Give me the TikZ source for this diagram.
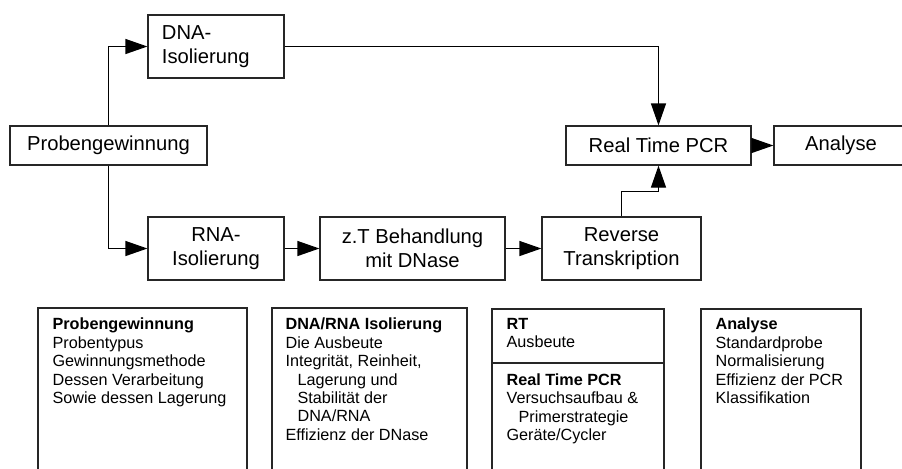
\documentclass[tikz,border=0pt]{standalone}
\usepackage{fontspec}
\setmainfont{Liberation Sans}
\usetikzlibrary{arrows.meta}

\begin{document}
\begin{tikzpicture}[x=0.5pt, y=-0.5pt, line width=0.6pt,
		box/.style={draw=black!85, fill=white, inner sep=0pt, minimum height=31.5pt, align=center, font=\fontsize{10.1}{11.75}\selectfont},
		pil/.style={-{Triangle[length=11pt, width=7.5pt]}},
		liste/.style={anchor=north west, inner sep=0pt, align=left, font=\fontsize{8.1}{9.2}\selectfont}]
		\useasboundingbox (0, 0) rectangle (902, 468);
		
		\node [box, minimum width=98.5pt, minimum height=19.5pt] (prob) at (108.5, 145.5) {Probengewinnung}; % Ablauf
		\node [box, minimum width=68pt, text width=54pt, inner xsep=7pt, align=left] (dna) at (216, 46.5) {DNA-\\Isolierung};
		\node [box, minimum width=68pt] (rna) at (216, 248.5) {RNA-\\Isolierung};
		\node [box, minimum width=92.5pt] (dnase) at (412.5, 248.5) {z.T Behandlung\\mit DNase};
		\node [box, minimum width=79.5pt] (rt) at (621.5, 248.5) {Reverse\\Transkription};
		\node [box, minimum width=92.5pt, minimum height=19.5pt] (pcr) at (658.5, 145.5) {Real Time PCR};
		\node [box, minimum width=67pt, minimum height=19.5pt] (ana) at (841, 145.5) {Analyse};
		
		\draw [pil] (prob.north) |- (dna.west); % Pfeile
		\draw [pil] (prob.south) |- (rna.west);
		\draw [pil] (rna.east) -- (dnase.west);
		\draw [pil] (dnase.east) -- (rt.west);
		\draw [pil] (dna.east) -| (pcr.north);
		\draw [pil] (rt.north) -- ++(0, -25) -| (pcr.south);
		\draw [pil] (pcr.east) -- (ana.west);
		
		\draw [draw=black!85] (38, 308) rectangle (247, 480); % Kriterien
		\draw [draw=black!85] (272, 308) rectangle (467, 480);
		\draw [draw=black!85] (492, 309) rectangle (664, 480);
		\draw [draw=black!85] (492, 363) -- (664, 363);
		\draw [draw=black!85] (701, 309) rectangle (861, 480);
		
		\node [liste] (k-prob) at (52, 317.5) {\textbf{Probengewinnung}\\Probentypus\\Gewinnungsmethode\\Dessen Verarbeitung\\Sowie dessen Lagerung};
		\node [liste] (k-iso) at (285, 317.5) {\textbf{DNA/RNA Isolierung}\\Die Ausbeute\\Integrität, Reinheit,\\\hspace*{6pt}Lagerung und\\\hspace*{6pt}Stabilität der\\\hspace*{6pt}DNA/RNA\\Effizienz der DNase};
		\node [liste] (k-rt) at (506, 317.5) {\textbf{RT}\\Ausbeute};
		\node [liste] (k-pcr) at (506, 373) {\textbf{Real Time PCR}\\Versuchsaufbau \&\\\hspace*{6pt}Primerstrategie\\Geräte/Cycler};
		\node [liste] (k-ana) at (715, 317.5) {\textbf{Analyse}\\Standardprobe\\Normalisierung\\Effizienz der PCR\\Klassifikation};
	\end{tikzpicture}
\end{document}
